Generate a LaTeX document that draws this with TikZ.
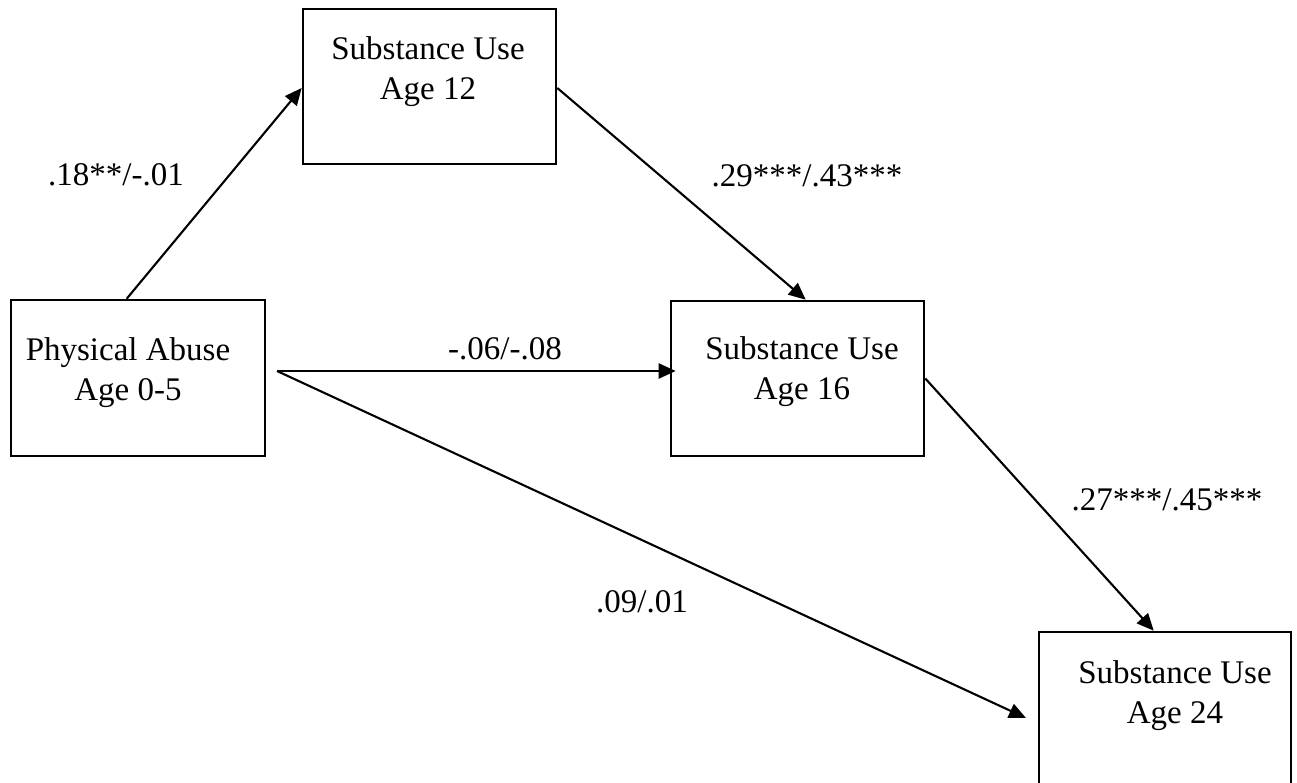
\documentclass[tikz,border=0pt]{standalone}
\usepackage{fontspec}
\setmainfont{Liberation Serif}
\usetikzlibrary{arrows.meta}
\begin{document}
\begin{tikzpicture}[x=1pt,y=-1pt,
  box/.style={draw=black,line width=2.6pt,rectangle,inner sep=0pt},
  txt/.style={font=\fontsize{33}{40}\selectfont,align=center,anchor=base,inner sep=0pt},
  lbl/.style={font=\fontsize{33}{40}\selectfont,anchor=base,inner sep=0pt},
  conn/.style={line width=2.1pt,-{Triangle[length=17pt,width=15pt]}}]
\useasboundingbox (0,0) rectangle (1297,783);
% boxes
\node[box,minimum width=254pt,minimum height=156pt] (pa) at (138,378) {};
\node[box,minimum width=253pt,minimum height=155pt] (b12) at (429.5,86.5) {};
\node[box,minimum width=253pt,minimum height=155pt] (b16) at (797.5,378.5) {};
\node[box,minimum width=252pt,minimum height=170pt] (b24) at (1165,717) {};
% texts
\node[txt] (tpa) at (128,400) {Physical Abuse\\Age 0-5};
\node[txt] (t12) at (428,100) {Substance Use\\Age 12};
\node[txt] (t16) at (802,399) {Substance Use\\Age 16};
\node[txt] (t24) at (1175,723) {Substance Use\\Age 24};
% connectors
\coordinate (src) at (277,371);
\coordinate (end24) at (1026,718);
\draw[conn] ([xshift=117pt]pa.north west) -- ([yshift=-1.5pt]b12.west);
\draw[conn] ([yshift=-1.5pt]b12.east) -- ([xshift=136pt]b16.north west);
\draw[conn] (b16.east) -- ([xshift=116pt]b24.north west);
\draw[conn] (src) -- ([xshift=6pt,yshift=7.5pt]b16.west);
\draw[conn] (src) -- (end24);
% labels
\node[lbl] (l1) at (116,186) {.18**/-.01};
\node[lbl] (l2) at (807,187) {.29***/.43***};
\node[lbl] (l3) at (505,359) {-.06/-.08};
\node[lbl] (l4) at (642,612) {.09/.01};
\node[lbl] (l5) at (1167,510) {.27***/.45***};
\end{tikzpicture}
\end{document}
